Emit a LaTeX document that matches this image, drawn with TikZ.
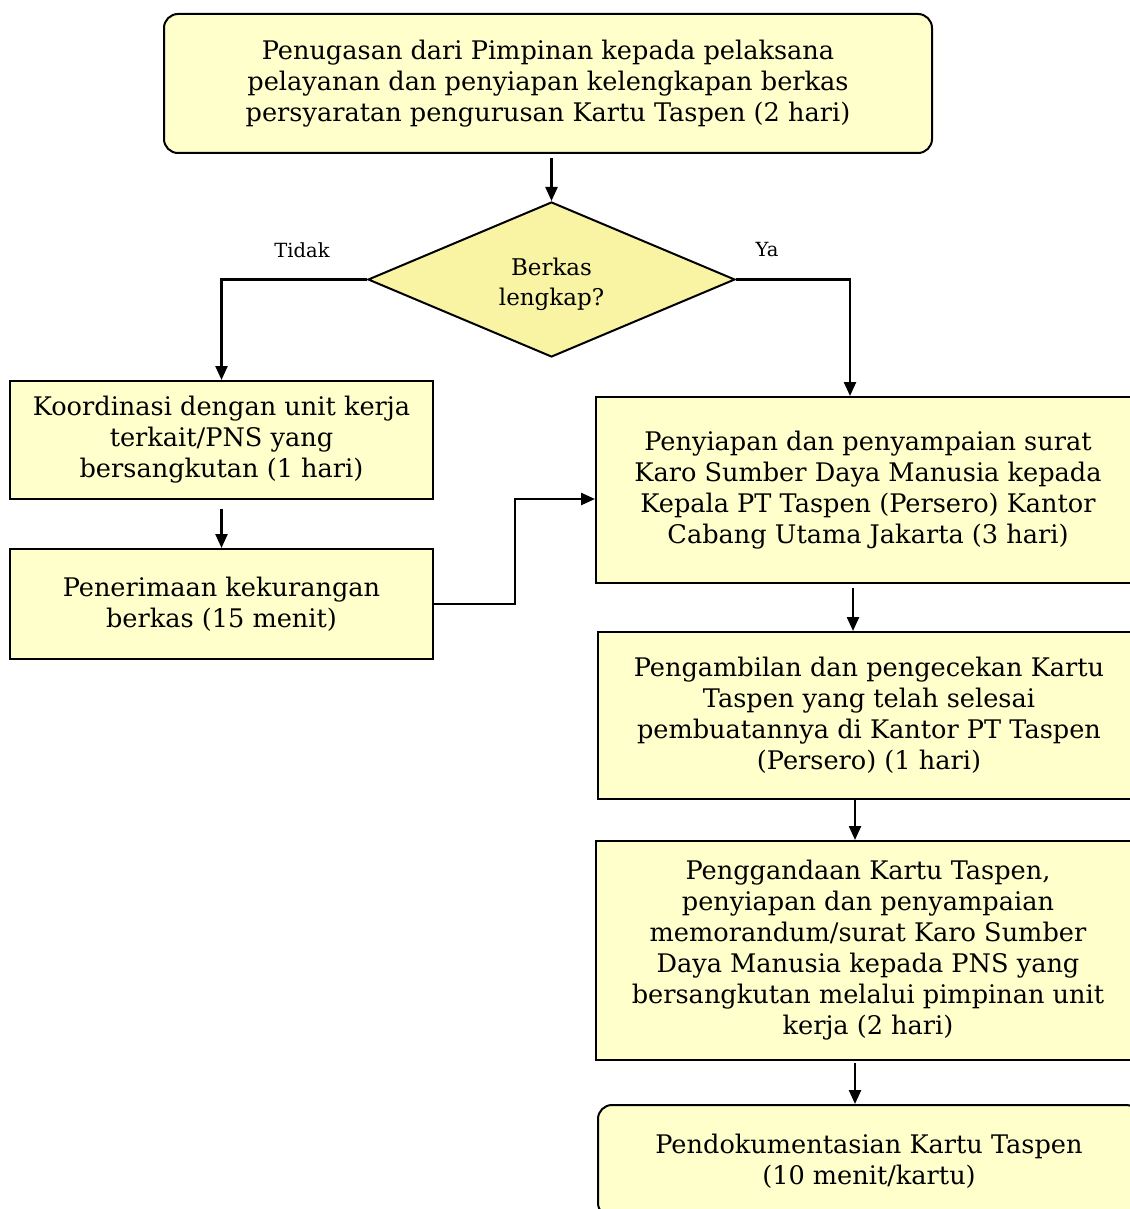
\documentclass[tikz,border=0pt]{standalone}
\usepackage{fontspec}
\setmainfont{DejaVu Serif}
\usetikzlibrary{shapes.geometric,arrows.meta}
\definecolor{boxfill}{HTML}{FFFFCC}
\definecolor{diafill}{HTML}{F8F4A4}
\begin{document}
\begin{tikzpicture}[x=1pt,y=1pt,
  box/.style={draw=black,line width=2pt,fill=boxfill,inner sep=0pt,align=center,
    font=\fontsize{25.6}{31}\selectfont},
  rbox/.style={box,rounded corners=14pt},
  dec/.style={diamond,aspect=2.37,draw=black,line width=2pt,fill=diafill,inner sep=0pt,align=center,
    minimum width=367pt,minimum height=155pt,font=\fontsize{23}{30}\selectfont},
  lbl/.style={font=\fontsize{19.5}{22}\selectfont,inner sep=0pt},
  arr/.style={line width=2.4pt,-{Triangle[length=14pt,width=12pt]}},
  ln/.style={line width=2.4pt}]
\useasboundingbox (0,0) rectangle (1129,-1209);
\node[rbox,minimum width=768pt,minimum height=139pt] (top) at (548,-83.5)
 {Penugasan dari Pimpinan kepada pelaksana\\pelayanan dan penyiapan kelengkapan berkas\\persyaratan pengurusan Kartu Taspen (2 hari)};
\node[dec] (dia) at (551.5,-279.5) {\rule{0pt}{28pt}Berkas\\lengkap?};
\node[lbl] (tidak) at (302,-250) {Tidak};
\node[lbl] (ya) at (767,-250) {Ya};
\node[box,minimum width=423pt,minimum height=118pt] (l1) at (221.5,-440)
 {Koordinasi dengan unit kerja\\terkait/PNS yang\\bersangkutan (1 hari)};
\node[box,minimum width=423pt,minimum height=110pt] (l2) at (221.5,-604)
 {Penerimaan kekurangan\\berkas (15 menit)};
\node[box,minimum width=544pt,minimum height=186pt] (r1) at (868,-490)
 {Penyiapan dan penyampaian surat\\Karo Sumber Daya Manusia kepada\\Kepala PT Taspen (Persero) Kantor\\Cabang Utama Jakarta (3 hari)};
\node[box,minimum width=542pt,minimum height=167pt] (r2) at (869,-715.5)
 {Pengambilan dan pengecekan Kartu\\Taspen yang telah selesai\\pembuatannya di Kantor PT Taspen\\(Persero) (1 hari)};
\node[box,minimum width=544pt,minimum height=219pt] (r3) at (868,-950.5)
 {Penggandaan Kartu Taspen,\\penyiapan dan penyampaian\\memorandum/surat Karo Sumber\\Daya Manusia kepada PNS yang\\bersangkutan melalui pimpinan unit\\kerja (2 hari)};
\node[rbox,minimum width=542pt,minimum height=112pt] (r4) at (869,-1161)
 {Pendokumentasian Kartu Taspen\\(10 menit/kartu)};
\draw[arr,shorten <=4pt] (top.south -| dia.north) -- (dia.north);
\draw[arr] (dia.west) -| (l1.north);
\draw[arr] (dia.east) -| ([xshift=-18pt]r1.north);
\draw[arr,shorten <=9pt] (l1.south) -- (l2.north);
\draw[arr] (l2.east) -- ++(81,0) |- ([yshift=-9pt]r1.west);
\draw[arr,shorten <=4pt] ([xshift=-15pt]r1.south) -- ([xshift=-16pt]r2.north);
\draw[arr] ([xshift=-14pt]r2.south) -- ([xshift=-13pt]r3.north);
\draw[arr,shorten <=2pt] ([xshift=-13pt]r3.south) -- ([xshift=-14pt]r4.north);
\end{tikzpicture}
\end{document}
